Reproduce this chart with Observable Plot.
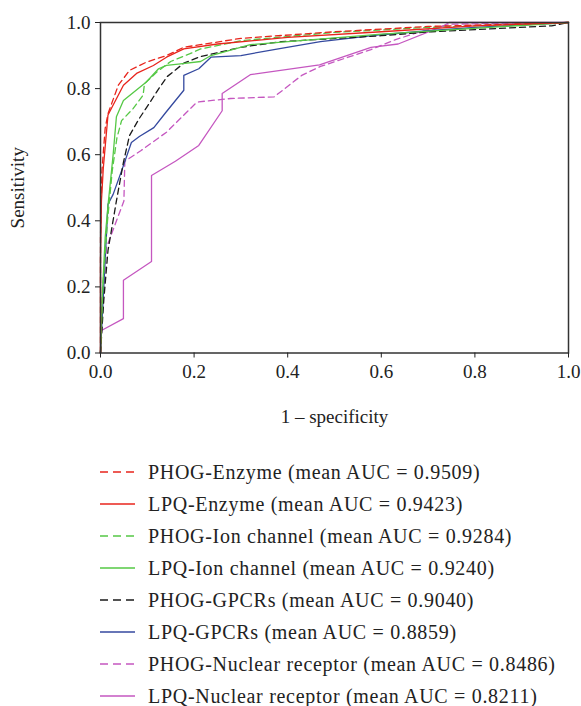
<!DOCTYPE html>
<html>
<head>
<meta charset="utf-8">
<script src="https://cdn.jsdelivr.net/npm/d3@7"></script>
<script src="https://cdn.jsdelivr.net/npm/@observablehq/plot@0.6"></script>
<style>
  html, body { margin: 0; padding: 0; background: #fff; }
  body { width: 581px; height: 706px; overflow: hidden; font-family: "Liberation Serif", "DejaVu Serif", serif; }
  #chart svg { display: block; }
  #legend { margin-top: 19px; }
  .row { display: flex; align-items: center; height: 32px; }
  .row svg { margin-left: 100px; margin-right: 13px; }
  .row span { font-size: 20px; letter-spacing: 0.7px; color: #222; }
</style>
</head>
<body>
<div id="chart"></div>
<div id="legend"></div>
<script>
// ---- data ----
const seriesNames = [
  "PHOG-Enzyme (mean AUC = 0.9509)",
  "LPQ-Enzyme (mean AUC = 0.9423)",
  "PHOG-Ion channel (mean AUC = 0.9284)",
  "LPQ-Ion channel (mean AUC = 0.9240)",
  "PHOG-GPCRs (mean AUC = 0.9040)",
  "LPQ-GPCRs (mean AUC = 0.8859)",
  "PHOG-Nuclear receptor (mean AUC = 0.8486)",
  "LPQ-Nuclear receptor (mean AUC = 0.8211)"
];
const seriesColors = ["#e8241c", "#e8241c", "#55c845", "#55c845", "#1a1a1a", "#34499f", "#c557c0", "#c557c0"];
const seriesDashed = [true, false, true, false, true, false, true, false];

const phogEnzymeX = [0, 0, 0.003, 0.01, 0.016, 0.038, 0.062, 0.098, 0.141, 0.178, 0.3, 0.5, 0.7, 1];
const phogEnzymeY = [0, 0.35, 0.55, 0.68, 0.724, 0.81, 0.855, 0.88, 0.9, 0.925, 0.952, 0.972, 0.988, 1];

const lpqEnzymeX = [0, 0, 0.002, 0.006, 0.016, 0.049, 0.077, 0.113, 0.141, 0.178, 0.25, 0.4, 0.6, 0.8, 1];
const lpqEnzymeY = [0, 0.28, 0.46, 0.56, 0.72, 0.81, 0.846, 0.87, 0.895, 0.92, 0.935, 0.955, 0.972, 0.99, 1];

const phogIonX = [0, 0.005, 0.015, 0.025, 0.035, 0.045, 0.07, 0.091, 0.094, 0.122, 0.15, 0.19, 0.214, 0.3, 0.5, 0.7, 1];
const phogIonY = [0, 0.2, 0.4, 0.55, 0.65, 0.703, 0.74, 0.78, 0.815, 0.852, 0.882, 0.905, 0.92, 0.945, 0.97, 0.985, 1];

const lpqIonX = [0, 0.003, 0.01, 0.016, 0.027, 0.034, 0.049, 0.098, 0.124, 0.141, 0.171, 0.214, 0.236, 0.32, 0.6, 1];
const lpqIonY = [0, 0.15, 0.35, 0.446, 0.6, 0.715, 0.764, 0.82, 0.86, 0.87, 0.875, 0.882, 0.9, 0.933, 0.965, 1];

const phogGpcrX = [0, 0.007, 0.016, 0.034, 0.049, 0.062, 0.083, 0.1, 0.126, 0.143, 0.178, 0.214, 0.3, 0.386, 0.6, 0.707, 0.85, 0.964, 1];
const phogGpcrY = [0, 0.16, 0.31, 0.46, 0.577, 0.658, 0.71, 0.746, 0.803, 0.837, 0.877, 0.897, 0.925, 0.942, 0.96, 0.972, 0.982, 0.99, 1];

const lpqGpcrX = [0, 0.002, 0.016, 0.027, 0.049, 0.066, 0.083, 0.114, 0.139, 0.178, 0.178, 0.21, 0.236, 0.3, 0.386, 0.47, 0.6, 0.7, 0.8, 1];
const lpqGpcrY = [0, 0.06, 0.45, 0.48, 0.567, 0.637, 0.655, 0.682, 0.727, 0.795, 0.84, 0.86, 0.895, 0.9, 0.922, 0.942, 0.963, 0.975, 0.985, 1];

const phogNucX = [0, 0.005, 0.013, 0.05, 0.052, 0.086, 0.141, 0.203, 0.21, 0.278, 0.371, 0.43, 0.47, 0.578, 0.632, 0.679, 0.733, 0.75, 1];
const phogNucY = [0, 0.15, 0.32, 0.46, 0.58, 0.612, 0.668, 0.755, 0.76, 0.77, 0.775, 0.84, 0.867, 0.918, 0.949, 0.97, 0.99, 0.995, 1];

const lpqNucX = [0, 0.002, 0.049, 0.049, 0.109, 0.109, 0.16, 0.21, 0.26, 0.26, 0.32, 0.468, 0.578, 0.636, 0.733, 0.745, 1];
const lpqNucY = [0, 0.068, 0.104, 0.22, 0.277, 0.537, 0.58, 0.628, 0.733, 0.785, 0.842, 0.872, 0.925, 0.935, 0.99, 1, 1];

const tickValues = [0, 0.2, 0.4, 0.6, 0.8, 1.0];

// ---- build ----
const seriesXY = [
  [phogEnzymeX, phogEnzymeY], [lpqEnzymeX, lpqEnzymeY],
  [phogIonX, phogIonY], [lpqIonX, lpqIonY],
  [phogGpcrX, phogGpcrY], [lpqGpcrX, lpqGpcrY],
  [phogNucX, phogNucY], [lpqNucX, lpqNucY]
];
const series = seriesXY.map(([xs, ys], i) => ({
  name: seriesNames[i], color: seriesColors[i], dashed: seriesDashed[i],
  data: xs.map((x, j) => ({x, y: ys[j]}))
}));

// draw nuclear first, enzyme last (on top)
const lineMarks = series.slice().reverse().map(s =>
  Plot.line(s.data, {x: "x", y: "y", stroke: s.color, strokeWidth: 1.3,
    strokeDasharray: s.dashed ? "6,4" : null})
);

const chart = Plot.plot({
  width: 581,
  height: 437,
  marginLeft: 100,
  marginRight: 13,
  marginTop: 22,
  marginBottom: 84.5,
  style: {fontFamily: "'Liberation Serif', serif", fontSize: "19px", color: "#222", background: "#fff"},
  x: {domain: [0, 1]},
  y: {domain: [0, 1]},
  marks: [
    ...lineMarks,
    Plot.frame({stroke: "#333", strokeWidth: 1.5}),
    Plot.axisX({ticks: tickValues, tickFormat: d3.format(".1f"), tickSize: 5, tickPadding: 6,
      label: null, fontSize: 19}),
    Plot.axisY({ticks: tickValues, tickFormat: d3.format(".1f"), tickSize: 5, tickPadding: 5,
      label: null, fontSize: 19}),
    Plot.axisX({ticks: [], label: "1 – specificity", labelAnchor: "center", labelArrow: "none",
      labelOffset: 70, fontSize: 19, style: {letterSpacing: "0.8px"}}),
    Plot.axisY({ticks: [], label: "Sensitivity", labelAnchor: "center", labelArrow: "none",
      labelOffset: 90, fontSize: 19, style: {letterSpacing: "0.5px"}})
  ]
});
document.getElementById("chart").appendChild(chart);

// ---- legend ----
const legend = document.getElementById("legend");
series.forEach(s => {
  const row = document.createElement("div");
  row.className = "row";
  row.innerHTML = `<svg width="35" height="4"><line x1="0" y1="2" x2="35" y2="2" stroke="${s.color}" stroke-width="1.3" ${s.dashed ? 'stroke-dasharray="8,5"' : ''}/></svg><span>${s.name}</span>`;
  legend.appendChild(row);
});
</script>
</body>
</html>
